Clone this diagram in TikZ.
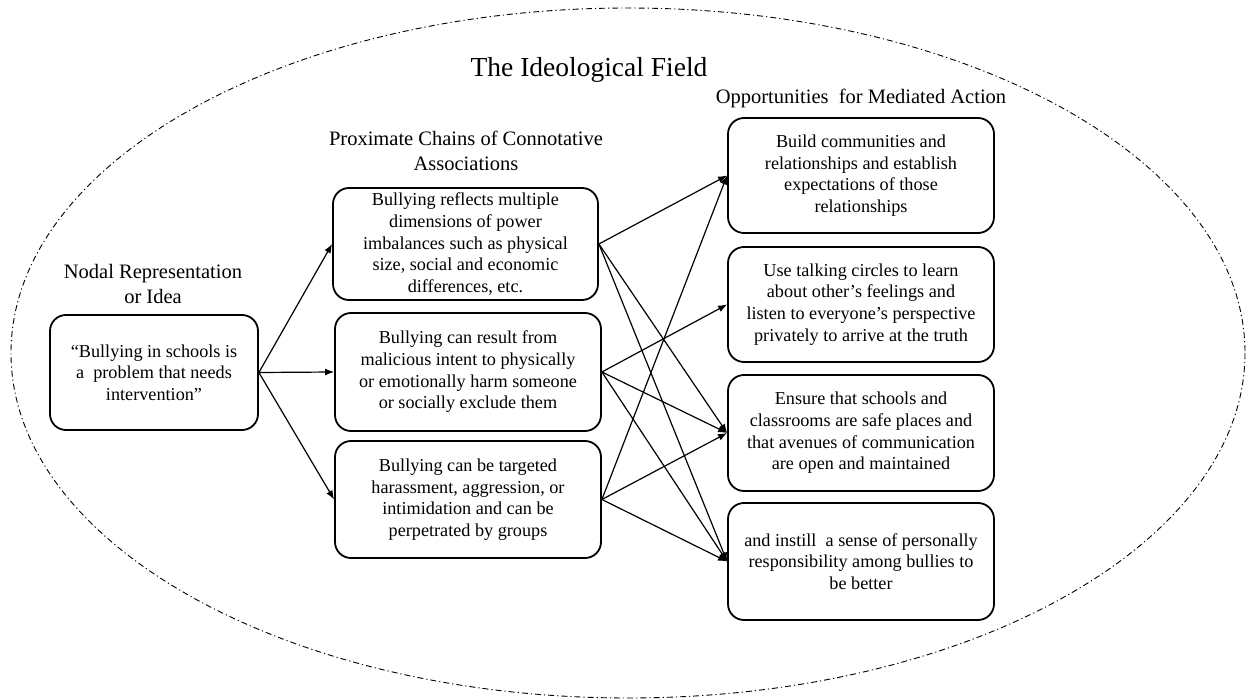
\documentclass[tikz,border=0pt]{standalone}
\usepackage{fontspec}
\setmainfont{Liberation Serif}
\usetikzlibrary{arrows.meta}
\begin{document}
\begin{tikzpicture}[x=1pt,y=-1pt,
  card/.style={draw, line width=1.8pt, rounded corners=16pt, inner sep=0pt,
    align=center, font=\fontsize{18.2}{21.7}\selectfont},
  heading/.style={align=center, inner sep=0pt, font=\fontsize{20.5}{25.5}\selectfont},
  link/.style={line width=1.2pt, -{Latex[length=9pt,width=7pt]}},
  field/.style={line width=0.9pt, dash pattern=on 6pt off 3pt on 1.2pt off 3pt}]
\useasboundingbox (0,0) rectangle (1248,700);

% the surrounding field
\draw[field] (628,353) ellipse [x radius=617, y radius=345];

% headings
\node[heading, font=\fontsize{27.5}{32}\selectfont] (title) at (589,70) {The Ideological Field};
\node[heading] (hnodal) at (153,284) {Nodal Representation\\or Idea};
\node[heading] (hchain) at (466,151) {Proximate Chains of Connotative\\Associations};
\node[heading] (hopp) at (861,98) {Opportunities\ \ for Mediated Action};

% nodal idea
\node[card, minimum width=208pt, minimum height=115pt] (L) at (154,372.5)
  {“Bullying in schools is\\a\ \ problem that needs\\intervention”};

% connotative associations
\node[card, minimum width=265pt, minimum height=112pt] (M1) at (465.5,244)
  {Bullying reflects multiple\\dimensions of power\\imbalances such as physical\\size, social and economic\\differences, etc.};
\node[card, minimum width=266pt, minimum height=118pt] (M2) at (468,372)
  {Bullying can result from\\malicious intent to physically\\or emotionally harm someone\\or socially exclude them};
\node[card, minimum width=266pt, minimum height=117pt] (M3) at (468,499.5)
  {Bullying can be targeted\\harassment, aggression, or\\intimidation and can be\\perpetrated by groups};

% opportunities for mediated action
\node[card, minimum width=266pt, minimum height=115pt] (R1) at (861,175.5)
  {Build communities and\\relationships and establish\\expectations of those\\relationships};
\node[card, minimum width=266pt, minimum height=115pt] (R2) at (861,304.5)
  {Use talking circles to learn\\about other’s feelings and\\listen to everyone's perspective\\privately to arrive at the truth};
\node[card, minimum width=266pt, minimum height=116pt] (R3) at (861,433)
  {Ensure that schools and\\classrooms are safe places and\\that avenues of communication\\are open and maintained};
\node[card, minimum width=266pt, minimum height=117pt] (R4) at (861,561.5)
  {and instill\ \ a sense of personally\\responsibility among bullies to\\be better};

% connectors
\draw[link] (L.east) -- (M1.west);
\draw[link] (L.east) -- (M2.west);
\draw[link] (L.east) -- (M3.west);

\draw[link] (M1.east) -- (R1.west);
\draw[link] (M1.east) -- (R3.west);
\draw[link] (M1.east) -- (R4.west);
\draw[link] (M2.east) -- (R2.west);
\draw[link] (M2.east) -- (R3.west);
\draw[link] (M2.east) -- (R4.west);
\draw[link] (M3.east) -- (R1.west);
\draw[link] (M3.east) -- (R3.west);
\draw[link] (M3.east) -- (R4.west);
\end{tikzpicture}
\end{document}
